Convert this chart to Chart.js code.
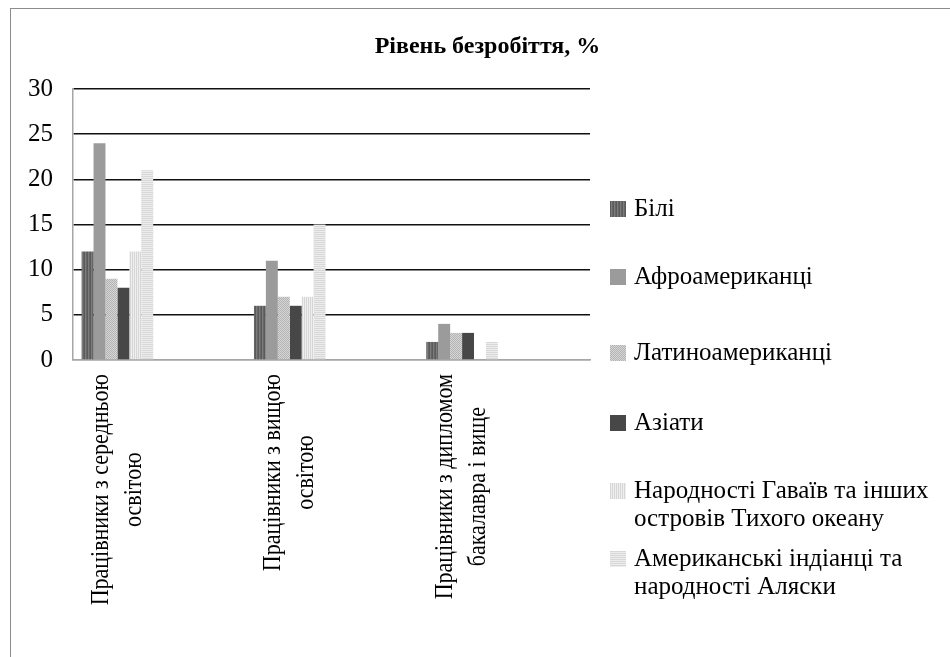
<!DOCTYPE html>
<html>
<head>
<meta charset="utf-8">
<script src="https://cdn.jsdelivr.net/npm/chart.js@4.4.0/dist/chart.umd.min.js"></script>
<style>
    body { margin: 0; background: #fff; }
    #wrap { position: relative; width: 950px; height: 657px; overflow: hidden; font-family: 'Liberation Serif', 'Times New Roman', 'DejaVu Serif', serif; color: #000; }
    #frame { position: absolute; left: 10px; top: 8px; width: 1000px; height: 700px; border-left: 1px solid #8c8c8c; border-top: 1px solid #8c8c8c; }
    #myChart { position: absolute; left: 0; top: 0; }
    #title { position: absolute; left: 10px; width: 955px; top: 31px; text-align: center; font-weight: bold; font-size: 24px; line-height: 28px; }
    .item { position: absolute; left: 610px; display: flex; align-items: flex-start; font-size: 25px; line-height: 28px; white-space: nowrap; }
    .sw { width: 16px; height: 16px; margin: 7px 8px 0 0; flex: none; }
</style>
</head>
<body>
<div id="wrap">
    <div id="frame"></div>
    <canvas id="myChart" width="950" height="657"></canvas>
    <div id="title">Рівень безробіття, %</div>
    <div id="legend"></div>
</div>
<script>
// Data

const categories = [
    ['Працівники з середньою', 'освітою'],
    ['Працівники з вищою', 'освітою'],
    ['Працівники з дипломом', 'бакалавра і вище']
];

const seriesNames = [
    'Білі',
    'Афроамериканці',
    'Латиноамериканці',
    'Азіати',
    'Народності Гаваїв та інших<br>островів Тихого океану',
    'Американські індіанці та<br>народності Аляски'
];

const bili = [12, 6, 2];
const afro = [24, 11, 4];
const latino = [9, 7, 3];
const aziaty = [8, 6, 3];
const gavai = [12, 7, null];
const indiantsi = [21, 15, 2];

const yTicks = [0, 5, 10, 15, 20, 25, 30];

const serif = '"Liberation Serif", "Times New Roman", "DejaVu Serif", serif';

// Patterns (grey fills like the original)

const makeTile = (w, h, cells) => {
    const c = document.createElement('canvas');
    c.width = w;
    c.height = h;
    const g = c.getContext('2d');
    cells.forEach(([x, y, col]) => {
        g.fillStyle = col;
        g.fillRect(x, y, 1, 1);
    });
    return c;
}

const vStripes = (cols) => makeTile(cols.length, 1, cols.map((col, i) => [i, 0, col]));
const hStripes = (cols) => makeTile(1, cols.length, cols.map((col, i) => [0, i, col]));

const tiles = [
    vStripes(['#5a5a5a', '#7c7c7c', '#666666']),
    vStripes(['#9b9b9b']),
    makeTile(2, 2, [[0, 0, '#b3b3b3'], [1, 0, '#d6d6d6'], [0, 1, '#d6d6d6'], [1, 1, '#b3b3b3']]),
    vStripes(['#474747']),
    vStripes(['#d6d6d6', '#efefef']),
    hStripes(['#d8d8d8', '#ececec'])
];

const ctx = document.getElementById('myChart').getContext('2d');
const patterns = tiles.map(t => ctx.createPattern(t, 'repeat'));

// Legend

const legendTops = [194, 262, 338, 408, 476, 544];
const legendEl = document.getElementById('legend');
seriesNames.forEach((name, i) => {
    const item = document.createElement('div');
    item.className = 'item';
    item.style.top = legendTops[i] + 'px';
    item.innerHTML = `<div class="sw" style="background-image:url(${tiles[i].toDataURL()})"></div><div>${name}</div>`;
    legendEl.appendChild(item);
});

// Chart

const seriesData = [bili, afro, latino, aziaty, gavai, indiantsi];

const datasets = seriesData.map((d, i) => ({
    label: seriesNames[i].replace('<br>', ' '),
    data: d,
    backgroundColor: patterns[i],
    borderWidth: 0
}));

// empty slots so the group sits on the left of each category, as in the original
for (let i = 0; i < 7; i++) {
    datasets.push({ label: '', data: [], backgroundColor: 'rgba(0,0,0,0)' });
}

const lineH = 33;
const glyphStretch = 1.15; // the original's rotated labels look taller than they are long

const xLabels = {
    id: 'xLabels',
    afterDraw(chart) {
        const c = chart.ctx;
        const yTop = chart.chartArea.bottom + 14;
        c.save();
        c.font = '22px ' + serif;
        c.fillStyle = '#000';
        c.textAlign = 'center';
        c.textBaseline = 'middle';
        categories.forEach((lines, i) => {
            const first = chart.getDatasetMeta(0).data[i];
            const last = chart.getDatasetMeta(seriesData.length - 1).data[i];
            const cx = (first.x - first.width / 2 + last.x + last.width / 2) / 2;
            const maxW = Math.max(...lines.map(l => c.measureText(l).width));
            c.save();
            c.translate(cx, yTop + maxW / 2);
            c.rotate(-Math.PI / 2);
            c.scale(1, glyphStretch);
            lines.forEach((l, j) => {
                c.fillText(l, 0, (j - (lines.length - 1) / 2) * lineH / glyphStretch);
            });
            c.restore();
        });
        c.restore();
    }
};

Chart.defaults.font.family = serif;
Chart.defaults.color = '#000';

const build = () => new Chart(ctx, {
    type: 'bar',
    data: { labels: categories, datasets: datasets },
    options: {
        responsive: false,
        animation: false,
        layout: { padding: { top: 89, right: 360, left: 0, bottom: 0 } },
        datasets: { bar: { categoryPercentage: 0.9, barPercentage: 1 } },
        plugins: { legend: { display: false }, tooltip: { enabled: false }, title: { display: false } },
        scales: {
            x: {
                grid: { display: false },
                border: { color: '#a6a6a6', width: 1.5 },
                ticks: { display: false },
                afterFit: (s) => { s.height = 657 - 360; }
            },
            y: {
                min: 0,
                max: 30,
                afterBuildTicks: (s) => { s.ticks = yTicks.map(v => ({ value: v })); },
                grid: {
                    drawTicks: false,
                    color: (c) => c.tick && c.tick.value === 0 ? '#a6a6a6' : '#111',
                    lineWidth: 1.5
                },
                border: { color: '#a6a6a6', width: 1.5 },
                ticks: { font: { size: 25 }, padding: 20 },
                afterFit: (s) => { s.width = 73; }
            }
        }
    },
    plugins: [xLabels]
});

if (document.fonts && document.fonts.load) {
    document.fonts.load('22px "Liberation Serif"').then(build, build);
} else {
    build();
}
</script>
</body>
</html>
